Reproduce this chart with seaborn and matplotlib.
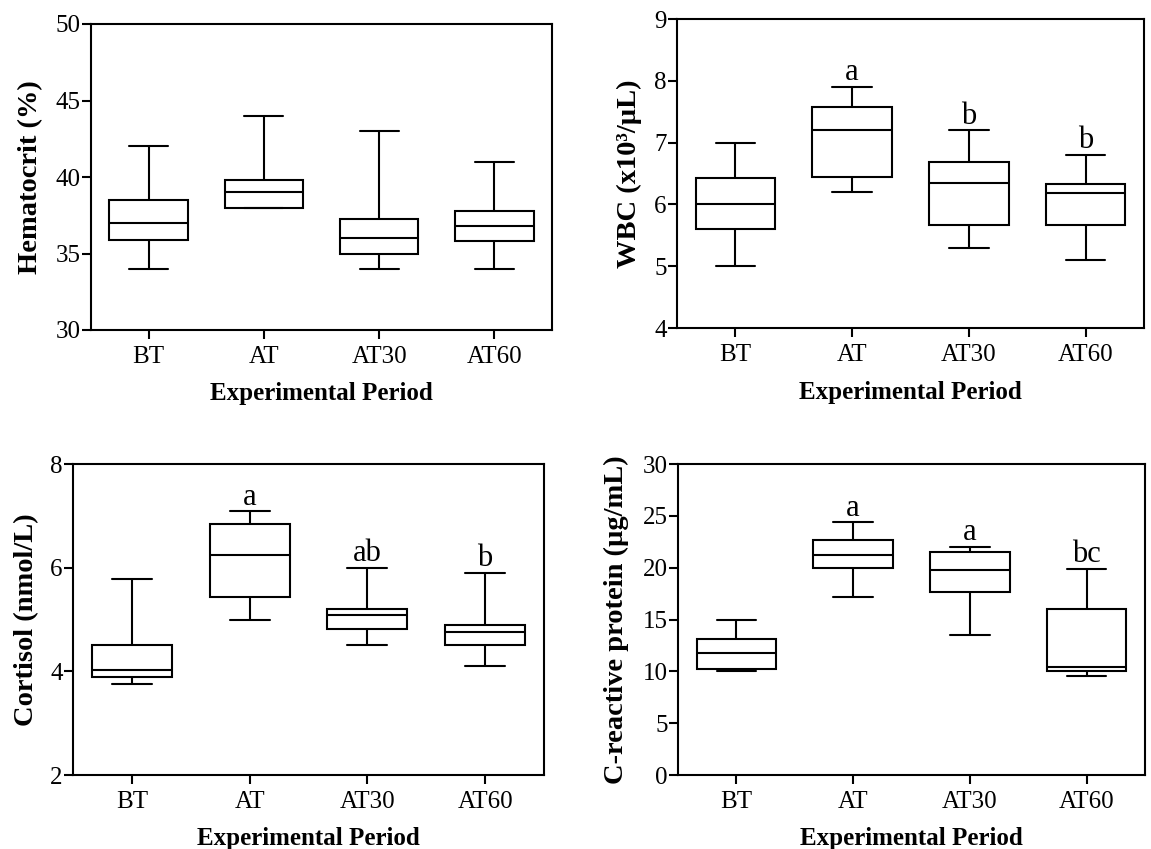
import numpy as np
import pandas as pd
import matplotlib
matplotlib.use("Agg")
import matplotlib.pyplot as plt
import seaborn as sns

periods = ["BT", "AT", "AT30", "AT60"]

# five-number summaries [min, Q1, median, Q3, max] for each period
hematocrit = [[34.0, 35.9, 37.0, 38.5, 42.0],
              [38.0, 38.0, 39.0, 39.8, 44.0],
              [34.0, 35.0, 36.0, 37.25, 43.0],
              [34.0, 35.8, 36.8, 37.8, 41.0]]
wbc = [[5.0, 5.6, 6.0, 6.42, 7.0],
       [6.2, 6.45, 7.2, 7.57, 7.9],
       [5.3, 5.67, 6.35, 6.68, 7.2],
       [5.1, 5.67, 6.19, 6.33, 6.8]]
cortisol = [[3.75, 3.89, 4.03, 4.51, 5.78],
            [5.0, 5.43, 6.24, 6.84, 7.09],
            [4.5, 4.81, 5.08, 5.21, 6.0],
            [4.1, 4.5, 4.75, 4.9, 5.9]]
crp = [[10.0, 10.22, 11.8, 13.09, 15.0],
       [17.2, 19.94, 21.25, 22.64, 24.37],
       [13.54, 17.62, 19.81, 21.54, 22.03],
       [9.58, 10.0, 10.45, 16.05, 19.9]]

hematocrit_letters = ["", "", "", ""]
wbc_letters = ["", "a", "b", "b"]
cortisol_letters = ["", "a", "ab", "b"]
crp_letters = ["", "a", "a", "bc"]

hematocrit_ticks = [30, 35, 40, 45, 50]
wbc_ticks = [4, 5, 6, 7, 8, 9]
cortisol_ticks = [2, 4, 6, 8]
crp_ticks = [0, 5, 10, 15, 20, 25, 30]

sns.set_style("ticks")
plt.rcParams["font.family"] = ["Liberation Serif", "DejaVu Serif"]
plt.rcParams["text.color"] = "black"
plt.rcParams["axes.labelcolor"] = "black"
plt.rcParams["xtick.color"] = "black"
plt.rcParams["ytick.color"] = "black"

W, H = 1151, 849
fig = plt.figure(figsize=(W / 100, H / 100), dpi=100)


def frame(summaries):
    rows = []
    for p, s in zip(periods, summaries):
        for v in s:
            rows.append({"period": p, "value": v})
    return pd.DataFrame(rows)


panels = [
    # (data, letters, ticks, ylabel, axes px [left, right, top, bottom], ylabel x, xlabel y)
    (hematocrit, hematocrit_letters, hematocrit_ticks, "Hematocrit (%)", (91, 552, 24, 330), -0.104, -0.171),
    (wbc, wbc_letters, wbc_ticks, "WBC (x10³/µL)", (677, 1144, 19, 328), -0.075, -0.172),
    (cortisol, cortisol_letters, cortisol_ticks, "Cortisol (nmol/L)", (73, 544, 464, 775), -0.072, -0.166),
    (crp, crp_letters, crp_ticks, "C-reactive protein (µg/mL)", (678, 1145, 464, 775), -0.105, -0.166),
]

lw = 1.5
for data, letters, ticks, ylabel, (l, r, t, b), ylx, xly in panels:
    ax = fig.add_axes([l / W, 1 - b / H, (r - l) / W, (b - t) / H])
    df = frame(data)
    sns.boxplot(data=df, x="period", y="value", order=periods, whis=(0, 100),
                width=0.68, color="white", linecolor="black", linewidth=lw,
                fliersize=0, ax=ax)
    ax.set_ylim(ticks[0], ticks[-1])
    ax.set_yticks(ticks)
    ax.set_xlim(-0.5, 3.5)
    for sp in ax.spines.values():
        sp.set_linewidth(lw)
        sp.set_color("black")
        sp.set_visible(True)
    ax.tick_params(axis="both", direction="out", length=6.3, width=lw,
                   color="black", labelsize=18, labelcolor="black")
    ax.tick_params(axis="y", pad=1)
    ax.tick_params(axis="x", pad=5.5)
    ax.set_xlabel("Experimental Period", fontsize=18, fontweight="bold")
    ax.set_ylabel(ylabel, fontsize=20.5, fontweight="bold")
    ax.yaxis.set_label_coords(ylx, 0.5)
    ax.xaxis.set_label_coords(0.5, xly)
    for i, (s, letter) in enumerate(zip(data, letters)):
        if letter:
            ax.annotate(letter, xy=(i, s[-1]), xytext=(0, 4.8),
                        textcoords="offset points", ha="center",
                        va="baseline", fontsize=22)

fig.savefig("out.png", dpi=100)
